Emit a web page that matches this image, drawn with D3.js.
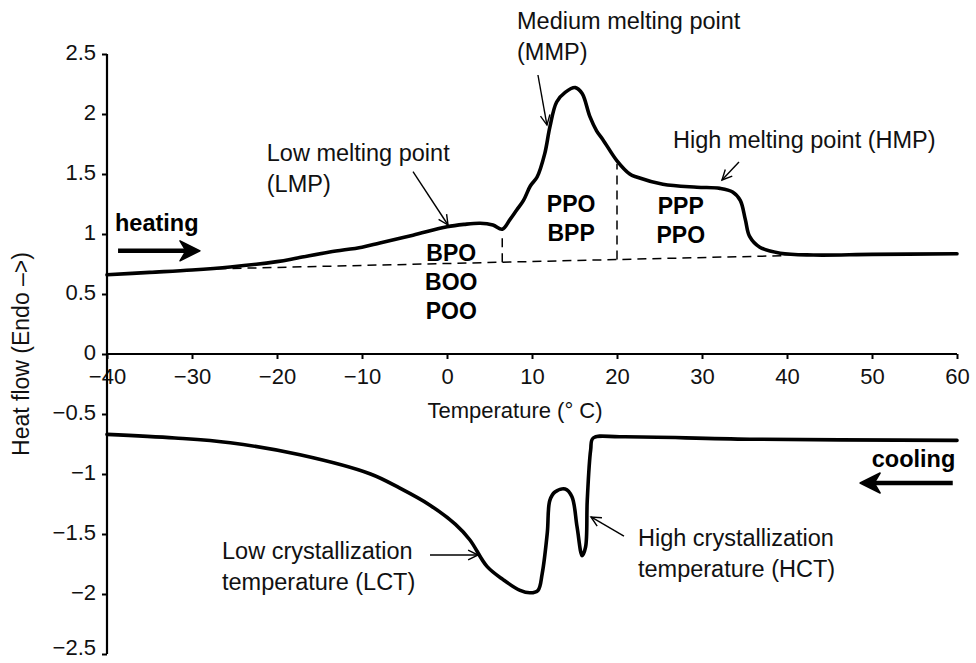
<!DOCTYPE html>
<html>
<head>
<meta charset="utf-8">
<script src="https://cdn.jsdelivr.net/npm/d3@7"></script>
<style>
  html, body { margin: 0; padding: 0; background: #fff; }
  svg { display: block; font-family: "Liberation Sans", Arial, Helvetica, sans-serif; }
</style>
</head>
<body>
<svg id="chart" width="976" height="663"></svg>
<script>
// DSC thermogram: heating (melting) and cooling (crystallization) traces
const heatTemp = [-40, -35, -30, -25.5, -20, -17.6, -13.8, -10, -7.9, -4, 0, 2, 3.9, 5.4, 6.5, 7.4, 8.2, 9, 9.8, 10.6, 11.5, 12.1, 12.9, 13.9, 15.1, 15.9, 16.8, 17.6, 18.4, 20, 21.5, 22.3, 25.4, 29.4, 32.1, 33.6, 34.5, 35.1, 35.6, 36.8, 39.2, 43.1, 50, 60];
const heatFlow = [0.66, 0.68, 0.70, 0.725, 0.77, 0.80, 0.85, 0.89, 0.925, 0.99, 1.06, 1.08, 1.09, 1.075, 1.04, 1.12, 1.20, 1.28, 1.40, 1.475, 1.67, 1.89, 2.10, 2.18, 2.22, 2.17, 1.98, 1.86, 1.78, 1.61, 1.50, 1.475, 1.415, 1.39, 1.38, 1.35, 1.28, 1.12, 0.98, 0.89, 0.84, 0.825, 0.83, 0.835];

const coolTemp = [-40, -32, -25.5, -17.3, -9, -5.5, -2, 1, 2.7, 4.7, 6.6, 8.6, 9.8, 10.7, 11.2, 11.8, 12.1, 12.7, 13.9, 14.7, 15.3, 15.9, 16.3, 16.5, 16.9, 17.2, 20.4, 35.6, 60];
const coolFlow = [-0.67, -0.70, -0.74, -0.84, -1.00, -1.12, -1.26, -1.42, -1.55, -1.77, -1.88, -1.97, -1.99, -1.97, -1.83, -1.49, -1.22, -1.15, -1.125, -1.19, -1.44, -1.68, -1.61, -1.22, -0.80, -0.70, -0.69, -0.71, -0.72];

// integration baseline under the melting trace and the partition temperatures
const baselineTemp = [-27, 40];
const baselineFlow = [0.71, 0.82];
const partitionTemp = [6.5, 20];

const xTicks = [-40, -30, -20, -10, 0, 10, 20, 30, 40, 50, 60];
const yTicks = [-2.5, -2, -1.5, -1, -0.5, 0, 0.5, 1, 1.5, 2, 2.5];

// triacylglycerol groups melting in each fraction
const fractionLabels = [["BPO", "BOO", "POO"], ["PPO", "BPP"], ["PPP", "PPO"]];
const fractionAt = [[0.5, 0.825], [14.6, 1.233], [27.5, 1.217]];

// callouts: text lines, text anchor point (T, flow), arrow from / to (T, flow)
const calloutText = [
  ["Low melting point", "(LMP)"],
  ["Medium melting point", "(MMP)"],
  ["High melting point (HMP)"],
  ["Low crystallization", "temperature (LCT)"],
  ["High crystallization", "temperature (HCT)"]
];
const calloutAt = [[-21.2, 1.658], [8.24, 2.758], [26.6, 1.767], [-26.47, -1.658], [22.47, -1.55]];
const calloutFrom = [[-4.0, 1.52], [10.7, 2.325], [34.35, 1.6], [-2.0, -1.675], [20.82, -1.517]];
const calloutTo = [[0.12, 1.075], [11.76, 1.908], [32.35, 1.45], [3.65, -1.675], [16.94, -1.358]];

// scan direction arrows
const directionText = ["heating", "cooling"];
const directionTextAt = [[-39.06, 1.025], [59.8, -0.94]];
const directionFrom = [[-38.7, 0.86], [59.5, -1.075]];
const directionTo = [[-29.06, 0.86], [48.6, -1.075]];

const svg = d3.select("#chart");
const x = d3.scaleLinear().domain([-40, 60]).range([107, 957]);
const y = d3.scaleLinear().domain([-2.5, 2.5]).range([654, 54]);

// axes
const minus = d => d < 0 ? "\u2212" + Math.abs(d) : String(d);
const gx = svg.append("g").attr("transform", `translate(0,${y(0)})`)
  .call(d3.axisBottom(x).tickValues(xTicks).tickSize(5).tickPadding(9).tickFormat(minus));
const gy = svg.append("g").attr("transform", `translate(${x(-40)},0)`)
  .call(d3.axisLeft(y).tickValues(yTicks).tickSize(5).tickPadding(6).tickFormat(minus));
[gx, gy].forEach(g => {
  g.select(".domain").attr("stroke", "#000").attr("stroke-width", 2.2);
  g.selectAll(".tick line").attr("stroke", "#000").attr("stroke-width", 2);
  g.selectAll(".tick text").attr("fill", "#111").attr("font-size", 22)
    .attr("font-family", "'Liberation Sans', Arial, sans-serif");
});
// lowest label sits against the bottom edge, so it is lifted slightly
gy.selectAll(".tick text").attr("dy", d => d === -2.5 ? "0.02em" : "0.24em");
gx.select(".domain").attr("d", `M${x(-40)},0H${x(60)}`);
gy.select(".domain").attr("d", `M0,${y(2.5)}V${y(-2.5)}`);

svg.append("text").attr("x", 515).attr("y", y(0) + 64).attr("text-anchor", "middle")
  .attr("font-size", 22).attr("fill", "#111").text("Temperature (\u00B0 C)");
svg.append("text").attr("transform", `translate(23,${y(0)}) rotate(-90)`)
  .attr("text-anchor", "middle").attr("dominant-baseline", "middle")
  .attr("font-size", 23).attr("fill", "#111").text("Heat flow (Endo \u2013>)");

// baseline and partitions
svg.append("line")
  .attr("x1", x(baselineTemp[0])).attr("y1", y(baselineFlow[0]))
  .attr("x2", x(baselineTemp[1])).attr("y2", y(baselineFlow[1]))
  .attr("stroke", "#000").attr("stroke-width", 1.5).attr("stroke-dasharray", "9,6");
const baseAt = d3.scaleLinear().domain(baselineTemp).range(baselineFlow);
const heatAt = d3.scaleLinear().domain(heatTemp).range(heatFlow);
partitionTemp.forEach(t => {
  svg.append("line")
    .attr("x1", x(t)).attr("y1", y(baseAt(t)))
    .attr("x2", x(t)).attr("y2", y(heatAt(t)) + 3)
    .attr("stroke", "#000").attr("stroke-width", 1.5).attr("stroke-dasharray", "9,6");
});

// traces
const line = d3.line().x(d => x(d[0])).y(d => y(d[1])).curve(d3.curveCatmullRom.alpha(0.5));
[d3.zip(heatTemp, heatFlow), d3.zip(coolTemp, coolFlow)].forEach(pts => {
  svg.append("path").datum(pts).attr("d", line)
    .attr("fill", "none").attr("stroke", "#000").attr("stroke-width", 3.6)
    .attr("stroke-linejoin", "round").attr("stroke-linecap", "round");
});

// fraction labels
fractionLabels.forEach((lines, i) => {
  const cx = x(fractionAt[i][0]), cy = y(fractionAt[i][1]);
  lines.forEach((s, j) => {
    svg.append("text").attr("x", cx).attr("y", cy + j * 29)
      .attr("text-anchor", "middle").attr("dominant-baseline", "middle")
      .attr("font-size", 23).attr("font-weight", "bold").attr("fill", "#000").text(s);
  });
});

// thin open-headed arrow
function thinArrow(p0, p1) {
  const x0 = x(p0[0]), y0 = y(p0[1]), x1 = x(p1[0]), y1 = y(p1[1]);
  const a = Math.atan2(y1 - y0, x1 - x0), L = 11, w = 0.45;
  svg.append("line").attr("x1", x0).attr("y1", y0).attr("x2", x1).attr("y2", y1)
    .attr("stroke", "#000").attr("stroke-width", 1.4);
  svg.append("path")
    .attr("d", `M${x1 - L * Math.cos(a - w)},${y1 - L * Math.sin(a - w)}L${x1},${y1}L${x1 - L * Math.cos(a + w)},${y1 - L * Math.sin(a + w)}`)
    .attr("fill", "none").attr("stroke", "#000").attr("stroke-width", 1.4);
}

calloutText.forEach((lines, i) => {
  const tx = x(calloutAt[i][0]), ty = y(calloutAt[i][1]);
  lines.forEach((s, j) => {
    svg.append("text").attr("x", tx).attr("y", ty + j * 31)
      .attr("dominant-baseline", "middle").attr("font-size", 23.5).attr("fill", "#111").text(s);
  });
  thinArrow(calloutFrom[i], calloutTo[i]);
});

// bold scan-direction arrows
directionText.forEach((s, i) => {
  svg.append("text").attr("x", x(directionTextAt[i][0])).attr("y", y(directionTextAt[i][1]))
    .attr("text-anchor", i === 0 ? "start" : "end")
    .attr("font-size", 23.5).attr("font-weight", "bold").attr("fill", "#000").text(s);
  const x0 = x(directionFrom[i][0]), y0 = y(directionFrom[i][1]);
  const x1 = x(directionTo[i][0]), y1 = y(directionTo[i][1]);
  const dir = Math.sign(x1 - x0);
  svg.append("line").attr("x1", x0).attr("y1", y0).attr("x2", x1 - dir * 8).attr("y2", y1)
    .attr("stroke", "#000").attr("stroke-width", 4.5);
  svg.append("path")
    .attr("d", `M${x1},${y1}L${x1 - dir * 20},${y1 - 10}L${x1 - dir * 14},${y1}L${x1 - dir * 20},${y1 + 10}Z`)
    .attr("fill", "#000").attr("stroke", "#000").attr("stroke-width", 1.5).attr("stroke-linejoin", "round");
});
</script>
</body>
</html>
